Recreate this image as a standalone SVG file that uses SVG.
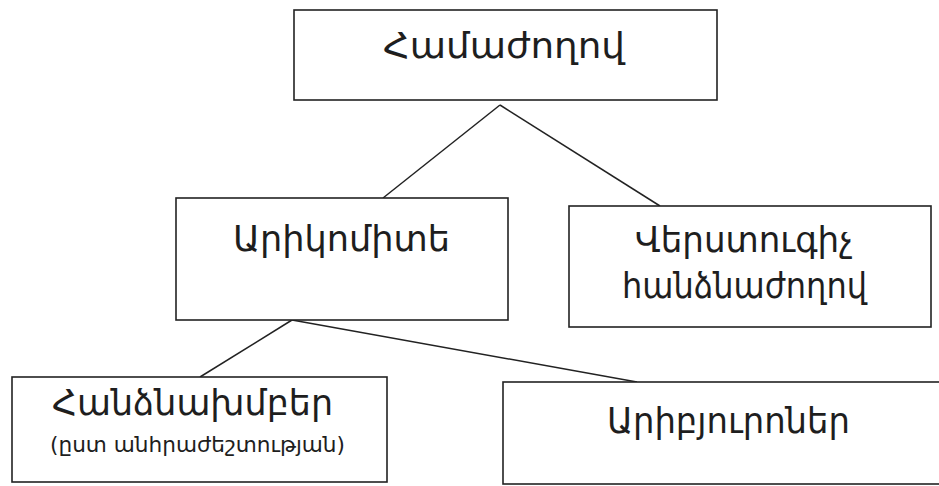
<svg xmlns="http://www.w3.org/2000/svg" width="939" height="486" viewBox="0 0 939 486">
<style>
.box{fill:#fff;stroke:#222;stroke-width:1.6}
.t{font-family:"DejaVu Sans","Noto Sans",sans-serif;fill:#1e1e1e;text-anchor:middle}
.big{font-size:35px}
.small{font-size:21px}
.edge{stroke:#222;stroke-width:1.5;fill:none}
</style>
<rect width="939" height="486" fill="#fff"/>
<g id="connectors">
<line class="edge" x1="500" y1="105" x2="383" y2="198"/>
<line class="edge" x1="500" y1="105" x2="660" y2="206"/>
<line class="edge" x1="292" y1="320" x2="200" y2="377"/>
<line class="edge" x1="292" y1="320" x2="637" y2="382"/>
</g>
<g id="n-hamazhoghov">
<rect class="box" x="294" y="10" width="423" height="90"/>
<text class="t big" x="504" y="58" textLength="242" lengthAdjust="spacingAndGlyphs">Համաժողով</text>
</g>
<g id="n-arikomite">
<rect class="box" x="176" y="198" width="332" height="122"/>
<text class="t big" x="341.5" y="251" textLength="217" lengthAdjust="spacingAndGlyphs">Արիկոմիտե</text>
</g>
<g id="n-verstugich">
<rect class="box" x="569" y="206" width="362" height="121"/>
<text class="t big" x="744" y="252" textLength="218" lengthAdjust="spacingAndGlyphs">Վերստուգիչ</text>
<text class="t big" x="744.5" y="298" textLength="245" lengthAdjust="spacingAndGlyphs">հանձնաժողով</text>
</g>
<g id="n-handznakhmber">
<rect class="box" x="12" y="377" width="375" height="105"/>
<text class="t big" x="192.5" y="415" textLength="281" lengthAdjust="spacingAndGlyphs">Հանձնախմբեր</text>
<text class="t small" x="197.5" y="452" textLength="295" lengthAdjust="spacingAndGlyphs">(ըստ անհրաժեշտության)</text>
</g>
<g id="n-aribyuroner">
<rect class="box" x="503" y="382" width="450" height="102"/>
<text class="t big" x="728.5" y="433" textLength="243" lengthAdjust="spacingAndGlyphs">Արիբյուրոներ</text>
</g>
</svg>
